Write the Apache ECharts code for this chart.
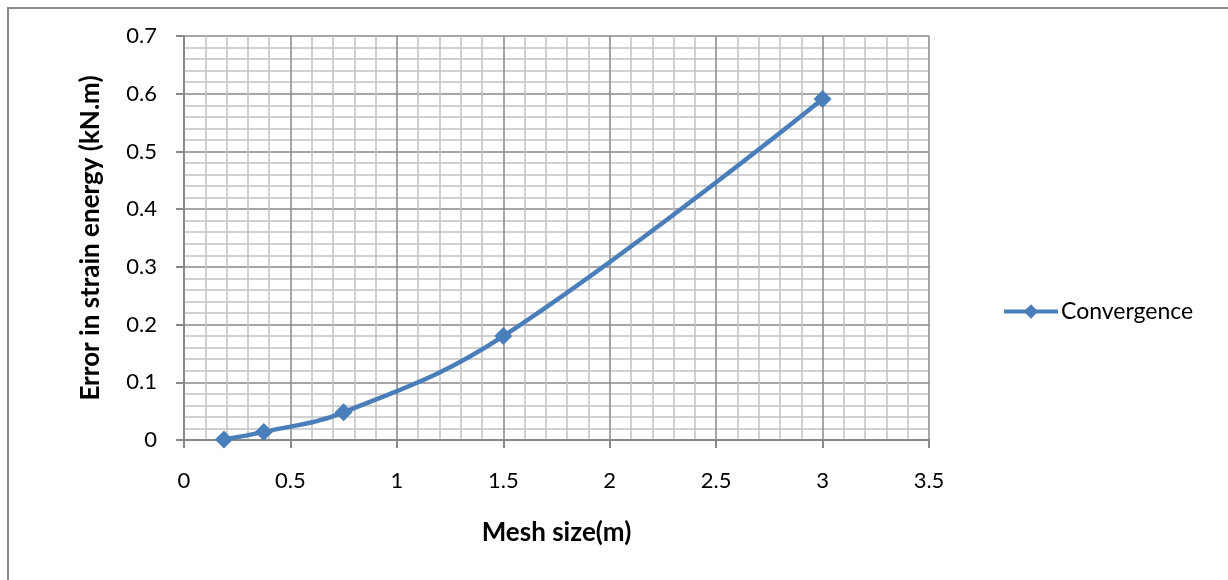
<!DOCTYPE html>
<html>
<head>
<meta charset="utf-8">
<script src="https://cdn.jsdelivr.net/npm/echarts@6/dist/echarts.min.js"></script>
<style>
html,body{margin:0;padding:0;background:#fff;}
#chart{width:1228px;height:580px;}
</style>
</head>
<body>
<div id="chart"></div>
<script>
const meshSize = [0.1875, 0.375, 0.75, 1.5, 3];
const strainError = [0.001, 0.014, 0.048, 0.18, 0.591];
const seriesName = 'Convergence';
const xTitle = 'Mesh size(m)';
const yTitle = 'Error in strain energy (kN.m)';

const FONT = 'Lato, "Open Sans", sans-serif';
const chart = echarts.init(document.getElementById('chart'), null, {renderer: 'canvas'});
const majorColor = '#888888';
const minorColor = '#c2c2c2';
const lineColor = '#4a7ebb';

chart.setOption({
  backgroundColor: '#ffffff',
  animation: false,
  graphic: [{
    type: 'rect',
    shape: {x: 8, y: 8, width: 1400, height: 800},
    style: {fill: 'none', stroke: '#8a8a8a', lineWidth: 2},
    silent: true, z: -1
  }],
  grid: {left: 184, right: 299, top: 36, bottom: 140, containLabel: false},
  legend: {
    data: [seriesName],
    orient: 'vertical',
    left: 997, top: 295,
    itemWidth: 54, itemHeight: 18,
    itemGap: 6,
    textStyle: {fontFamily: FONT, fontSize: 23, color: '#000', padding: [0, 0, 0, -2]},
    itemStyle: {color: lineColor},
    lineStyle: {color: lineColor, width: 4}
  },
  xAxis: {
    type: 'value', min: 0, max: 3.5, interval: 0.5,
    name: xTitle, nameLocation: 'middle', nameGap: 80,
    nameTextStyle: {fontFamily: FONT, fontSize: 26, fontWeight: 'bold', color: '#000'},
    axisLine: {show: true, onZero: false, lineStyle: {color: majorColor, width: 2}},
    axisTick: {show: true, inside: false, length: 8, lineStyle: {color: majorColor, width: 2}},
    axisLabel: {margin: 30, fontFamily: FONT, fontSize: 22, color: '#000'},
    splitLine: {show: true, lineStyle: {color: majorColor, width: 1.5}},
    minorTick: {show: false, splitNumber: 5},
    minorSplitLine: {show: true, lineStyle: {color: minorColor, width: 1.5}}
  },
  yAxis: {
    type: 'value', min: 0, max: 0.7, interval: 0.1,
    name: yTitle, nameLocation: 'middle', nameGap: 80,
    nameTextStyle: {fontFamily: FONT, fontSize: 26, fontWeight: 'bold', color: '#000'},
    axisLine: {show: true, lineStyle: {color: majorColor, width: 2}},
    axisTick: {show: true, inside: false, length: 8, lineStyle: {color: majorColor, width: 2}},
    axisLabel: {margin: 27, fontFamily: FONT, fontSize: 22, color: '#000',
      formatter: v => String(Math.round(v * 10) / 10)},
    splitLine: {show: true, lineStyle: {color: majorColor, width: 1.5}},
    minorTick: {show: false, splitNumber: 5},
    minorSplitLine: {show: true, lineStyle: {color: minorColor, width: 1.5}}
  },
  series: [{
    name: seriesName,
    type: 'line',
    data: meshSize.map((x, i) => [x, strainError[i]]),
    smooth: 0.4,
    symbol: 'diamond',
    symbolSize: 18,
    lineStyle: {color: lineColor, width: 4.5},
    itemStyle: {color: lineColor},
    z: 5
  }]
});
</script>
</body>
</html>
